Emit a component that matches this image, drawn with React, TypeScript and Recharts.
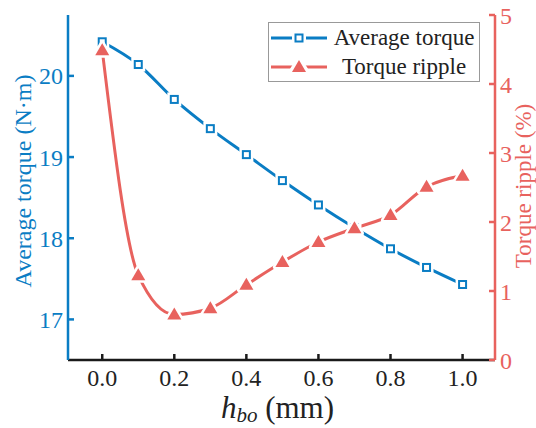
import React from "react";
import {
  LineChart,
  Line,
  XAxis,
  YAxis,
} from "recharts";

const BLUE = "#0A7DC4";
const RED = "#E8625E";
const FONT = "'Liberation Serif', 'Times New Roman', serif";

// h_bo (mm)
const hbo = [0.0, 0.1, 0.2, 0.3, 0.4, 0.5, 0.6, 0.7, 0.8, 0.9, 1.0];
const avgTorque = [20.42, 20.14, 19.71, 19.35, 19.03, 18.71, 18.41, 18.13, 17.87, 17.64, 17.43];
const torqueRipple = [4.49, 1.23, 0.66, 0.75, 1.09, 1.42, 1.71, 1.91, 2.1, 2.51, 2.67];

const xTicks = [0.0, 0.2, 0.4, 0.6, 0.8, 1.0];
const leftTicks = [17, 18, 19, 20];
const rightTicks = [0, 1, 2, 3, 4, 5];

const data = hbo.map((h, i) => ({ h, avg: avgTorque[i], ripple: torqueRipple[i] }));

const SquareDot = (props: any) => {
  const { cx, cy, index } = props;
  if (cx == null || cy == null) return null;
  return (
    <g key={`sq-${index}`}>
      <rect x={cx - 7} y={cy - 7} width={14} height={14} fill="#fff" />
      <rect x={cx - 3.5} y={cy - 3.5} width={7} height={7} fill="#fff" stroke={BLUE} strokeWidth={2} />
    </g>
  );
};

const TriDot = (props: any) => {
  const { cx, cy, index } = props;
  if (cx == null || cy == null) return null;
  const pts = `${cx},${cy - 7} ${cx - 7},${cy + 5} ${cx + 7},${cy + 5}`;
  return (
    <g key={`tr-${index}`}>
      <polygon points={pts} fill="#fff" stroke="#fff" strokeWidth={5} strokeLinejoin="round" />
      <polygon points={pts} fill={RED} />
    </g>
  );
};

const LegendBox = () => (
  <div
    style={{
      position: "absolute",
      left: 268,
      top: 22,
      border: "1.5px solid #999",
      background: "#fff",
      width: 212,
      height: 60,
      boxSizing: "border-box",
      fontFamily: FONT,
      fontSize: 23,
      color: "#222",
      lineHeight: "29px",
      paddingTop: 0,
    }}
  >
    {[
      { name: "Average torque", color: BLUE, kind: "sq" },
      { name: "Torque ripple", color: RED, kind: "tr" },
    ].map((it) => (
      <div key={it.name} style={{ display: "flex", alignItems: "center", height: 29 }}>
        <svg width={60} height={20} style={{ flex: "none" }}>
          <line x1={2} y1={10} x2={58} y2={10} stroke={it.color} strokeWidth={3} />
          {it.kind === "sq" ? (
            <g>
              <rect x={23} y={3} width={14} height={14} fill="#fff" />
              <rect x={26.5} y={6.5} width={7} height={7} fill="#fff" stroke={it.color} strokeWidth={2} />
            </g>
          ) : (
            <g>
              <polygon points="30,2 22,15 38,15" fill="#fff" stroke="#fff" strokeWidth={5} />
              <polygon points="30,3 23,15 37,15" fill={it.color} />
            </g>
          )}
        </svg>
        <span style={{ flex: 1, textAlign: "center", whiteSpace: "nowrap" }}>{it.name}</span>
      </div>
    ))}
  </div>
);

export default function App() {
  return (
    <div style={{ position: "absolute", left: 0, top: 0, width: 536, height: 428, background: "#fff" }}>
      <LineChart
        width={536}
        height={428}
        data={data}
        margin={{ top: 15, right: 5, left: 8, bottom: 8 }}
      >
        <XAxis
          dataKey="h"
          type="number"
          domain={[-0.095, 1.09]}
          ticks={xTicks}
          allowDataOverflow
          height={60}
          tickFormatter={(v: number) => v.toFixed(1)}
          axisLine={{ stroke: "#1a1a1a", strokeWidth: 2.5 }}
          tickLine={{ stroke: "#1a1a1a", strokeWidth: 2.5 }}
          tickSize={-6}
          tickMargin={15}
          tick={{ fill: "#222", fontSize: 24, fontFamily: FONT }}
          label={{
            content: (p: any) => {
              const vb = p.viewBox;
              return (
                <text
                  x={vb.x + vb.width / 2 - 4}
                  y={vb.y + 58}
                  textAnchor="middle"
                  fontFamily={FONT}
                  fontSize={31}
                  fill="#222"
                >
                  <tspan fontStyle="italic">h</tspan>
                  <tspan fontStyle="italic" fontSize={21} dy={4}>bo</tspan>
                  <tspan dy={-4}> (mm)</tspan>
                </text>
              );
            },
          }}
        />
        <XAxis
          xAxisId="top"
          orientation="top"
          dataKey="h"
          type="number"
          domain={[-0.095, 1.09]}
          height={0}
          tick={false}
          tickLine={false}
          axisLine={{ stroke: "#1a1a1a", strokeWidth: 2.5 }}
        />
        <YAxis
          yAxisId="left"
          type="number"
          domain={[16.5, 20.75]}
          ticks={leftTicks}
          allowDataOverflow
          width={60}
          axisLine={{ stroke: BLUE, strokeWidth: 2.5 }}
          tickLine={{ stroke: BLUE, strokeWidth: 2.5 }}
          tickSize={-6}
          tickMargin={11}
          tick={{ fill: BLUE, fontSize: 24, fontFamily: FONT }}
          label={{
            content: () => {
              const cx = 23;
              const cy = 181;
              return (
                <text
                  x={cx}
                  y={cy}
                  transform={`rotate(-90 ${cx} ${cy})`}
                  textAnchor="middle"
                  dominantBaseline="central"
                  fontFamily={FONT}
                  fontSize={24}
                  fill={BLUE}
                >
                  Average torque (N·m)
                </text>
              );
            },
          }}
        />
        <YAxis
          yAxisId="right"
          orientation="right"
          type="number"
          domain={[0, 5]}
          ticks={rightTicks}
          allowDataOverflow
          width={36}
          axisLine={{ stroke: RED, strokeWidth: 2.5 }}
          tickLine={{ stroke: RED, strokeWidth: 2.5 }}
          tickSize={-6}
          tickMargin={11}
          tick={{ fill: RED, fontSize: 24, fontFamily: FONT, textAnchor: "start" }}
          label={{
            content: () => {
              const cx = 523;
              const cy = 186;
              return (
                <text
                  x={cx}
                  y={cy}
                  transform={`rotate(-90 ${cx} ${cy})`}
                  textAnchor="middle"
                  dominantBaseline="central"
                  fontFamily={FONT}
                  fontSize={23}
                  fill={RED}
                >
                  Torque ripple (%)
                </text>
              );
            },
          }}
        />
        <Line
          yAxisId="left"
          dataKey="avg"
          type="monotone"
          stroke={BLUE}
          strokeWidth={3}
          dot={SquareDot}
          isAnimationActive={false}
        />
        <Line
          yAxisId="right"
          dataKey="ripple"
          type="monotone"
          stroke={RED}
          strokeWidth={3}
          dot={TriDot}
          isAnimationActive={false}
        />
      </LineChart>
      <LegendBox />
    </div>
  );
}
